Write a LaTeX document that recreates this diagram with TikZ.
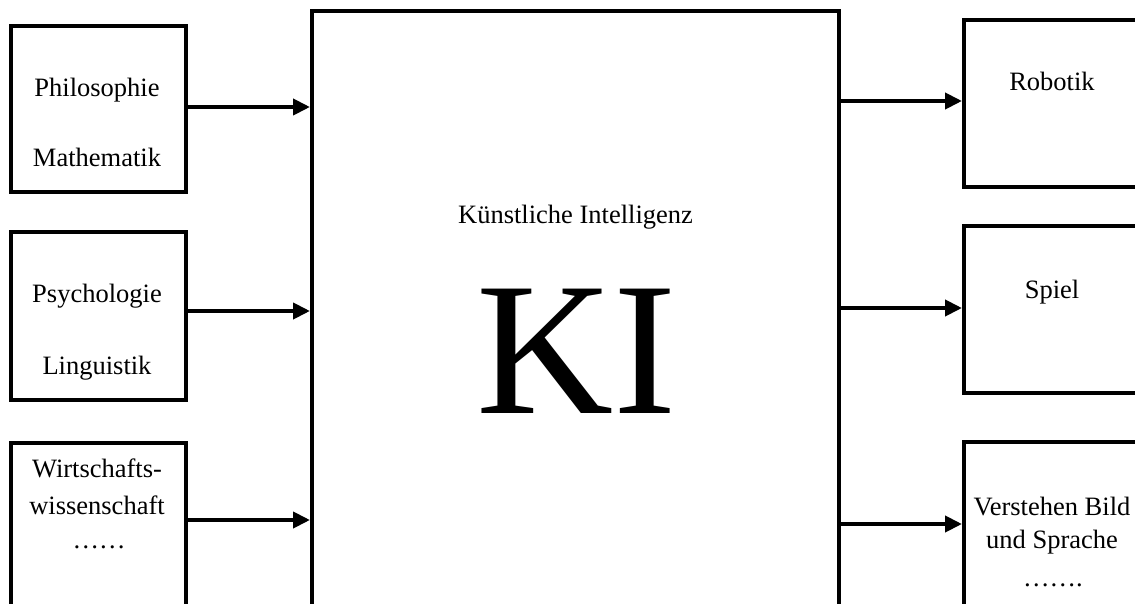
\documentclass[tikz,border=0pt]{standalone}
\usepackage{fontspec}
\setmainfont{Liberation Serif}
\usetikzlibrary{arrows.meta}
\tikzset{
  box/.style={draw=black, line width=4pt, rectangle, inner sep=0pt},
  lbl/.style={anchor=base, inner sep=0pt, font=\fontsize{26.5}{30}\selectfont},
  arr/.style={line width=4pt, -{Triangle[length=17pt,width=16pt]}}
}
\begin{document}
\begin{tikzpicture}[x=1pt,y=-1pt]
\useasboundingbox (0,0) rectangle (1135,604);
\clip (0,0) rectangle (1135,604);
% boxes
\node[box, minimum width=175pt, minimum height=166pt] (l1) at (98.5,109) {};
\node[box, minimum width=175pt, minimum height=168pt] (l2) at (98.5,316) {};
\node[box, minimum width=175pt, minimum height=197pt] (l3) at (98.5,541.5) {};
\node[box, minimum width=527pt, minimum height=629pt] (main) at (575.5,325.5) {};
\node[box, minimum width=236pt, minimum height=167pt] (r1) at (1082,103.5) {};
\node[box, minimum width=236pt, minimum height=167pt] (r2) at (1082,309.5) {};
\node[box, minimum width=236pt, minimum height=198pt] (r3) at (1082,541) {};
% texts
\node[lbl] (t1) at (97,97) {Philosophie};
\node[lbl] (t2) at (97,167) {Mathematik};
\node[lbl] (t3) at (97,302) {Psychologie};
\node[lbl] (t4) at (97,374) {Linguistik};
\node[lbl] (t5) at (97,477) {Wirtschafts-};
\node[lbl] (t6) at (97,514) {wissenschaft};
\node[lbl] (t7) at (99,548) {……};
\node[lbl] (t8) at (575.5,223) {Künstliche Intelligenz};
\node[anchor=base, inner sep=0pt, font=\fontsize{190}{200}\selectfont] (ki) at (577,413) {KI};
\node[lbl] (t9) at (1052,91) {Robotik};
\node[lbl] (t10) at (1052,298) {Spiel};
\node[lbl] (t11) at (1052,515) {Verstehen Bild};
\node[lbl] (t12) at (1052,548) {und Sprache};
\node[lbl] (t13) at (1053,586) {…….};
% arrow anchors
\path ([yshift=2pt]l1.east) coordinate (a1)
      ([yshift=5pt]l2.east) coordinate (a2)
      ([yshift=-79pt]l3.north east) coordinate (a3)
      ([yshift=2.5pt]r1.west) coordinate (b1)
      ([yshift=1.5pt]r2.west) coordinate (b2)
      ([yshift=-84pt]r3.north west) coordinate (b3);
\draw[arr] (a1) -- (a1 -| main.west);
\draw[arr] (a2) -- (a2 -| main.west);
\draw[arr] (a3) -- (a3 -| main.west);
\draw[arr] (b1 -| main.east) -- (b1);
\draw[arr] (b2 -| main.east) -- (b2);
\draw[arr] (b3 -| main.east) -- (b3);
\end{tikzpicture}
\end{document}
